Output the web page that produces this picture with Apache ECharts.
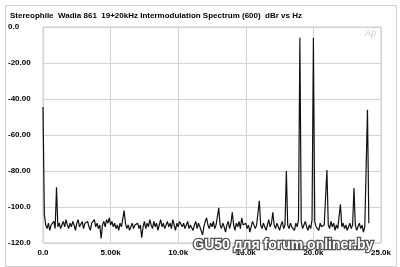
<!DOCTYPE html>
<html><head><meta charset="utf-8">
<script src="https://cdn.jsdelivr.net/npm/echarts@6/dist/echarts.min.js"></script>
<style>html,body{margin:0;padding:0;background:#fff}#c{width:400px;height:267px}</style>
</head><body><div id="c"></div>
<script>
const titleText = "Stereophile  Wadia 861  19+20kHz Intermodulation Spectrum (600)  dBr vs Hz";
const watermark = "GU50 для forum.onliner.by";
const xTicks = [0, 5000, 10000, 15000, 20000, 25000];
const xTickLabels = ["0.0", "5.00k", "10.0k", "15.0k", "20.0k", "25.0k"];
const yTicks = [0, -20, -40, -60, -80, -100, -120];
const yTickLabels = ["0.0", "-20.00", "-40.00", "-60.00", "-80.00", "-100.0", "-120.0"];
const binHz = 100; // spacing of the measured bins, 0 Hz upward
const levelsDb = [
  -44.5, -104, -110, -112, -109, -113, -110, -111, -108, -112,
  -89, -111, -109, -112, -110, -108, -111, -107, -110, -112,
  -109, -111, -108, -110, -113, -109, -107, -111, -110, -108,
  -112, -109, -110, -108, -111, -113, -109, -110, -107, -111,
  -109, -112, -110, -117.5, -110, -108, -111, -107, -109, -106,
  -110, -108, -111, -109, -112, -110, -113, -109, -111, -110,
  -102, -109, -112, -110, -113, -111, -109, -112, -110, -111,
  -109, -112, -110, -117, -111, -108, -112, -109, -111, -107,
  -110, -112, -108, -111, -109, -113, -110, -107, -111, -109,
  -112, -110, -108, -111, -109, -112, -107, -110, -113, -109,
  -111, -108, -107, -111, -109, -112, -110, -108, -112, -110,
  -109, -113, -110, -108, -112, -109, -111, -110, -115.5, -111,
  -108, -106, -110, -112, -109, -111, -108, -112, -110, -109,
  -100.5, -110, -112, -109, -111, -114, -110, -108, -112, -109,
  -103, -110, -113, -109, -111, -108, -112, -106, -110, -111,
  -109, -112, -110, -114, -111, -108, -109, -112, -110, -111,
  -96.5, -110, -112, -109, -111, -113, -110, -107, -111, -109,
  -103, -110, -112, -109, -111, -113, -110, -108, -112, -110,
  -80, -110, -112, -109, -111, -110, -113, -109, -111, -107,
  -6, -108, -112, -110, -108, -111, -113, -110, -112, -107,
  -6, -108, -111, -110, -113, -109, -111, -112, -110, -109,
  -79.5, -110, -112, -108, -111, -109, -113, -110, -112, -111,
  -98.5, -111, -109, -112, -110, -113, -111, -109, -112, -110,
  -89.5, -110, -113, -111, -109, -112, -110, -114, -111, -110,
  -46, -109
];

const seriesData = levelsDb.map((v, i) => [i * binHz, v]);
const xLabelMap = {}; xTicks.forEach((t, i) => xLabelMap[t] = xTickLabels[i]);
const yLabelMap = {}; yTicks.forEach((t, i) => yLabelMap[t] = yTickLabels[i]);

const chart = echarts.init(document.getElementById('c'), null, {renderer: 'canvas'});
const font = "'Liberation Sans', Arial, sans-serif";
chart.setOption({
  animation: false,
  backgroundColor: '#fff',
  grid: {left: 43, right: 19, top: 27, bottom: 24, show: true, borderColor: '#c8c8c8', borderWidth: 1},
  xAxis: {
    type: 'value', min: 0, max: 25000, interval: 5000,
    axisLine: {show: false}, axisTick: {show: false},
    splitLine: {show: true, lineStyle: {color: '#d4d4d4', width: 1}},
    axisLabel: {margin: 6, color: '#000', fontFamily: font, fontWeight: 'bold', fontSize: 8,
      formatter: v => xLabelMap[v] !== undefined ? xLabelMap[v] : ''}
  },
  yAxis: {
    type: 'value', min: -120, max: 0, interval: 20,
    axisLine: {show: false}, axisTick: {show: false},
    splitLine: {show: true, lineStyle: {color: '#d4d4d4', width: 1}},
    axisLabel: {margin: 35, align: 'left', color: '#000', fontFamily: font, fontWeight: 'bold', fontSize: 8,
      formatter: v => yLabelMap[v] !== undefined ? yLabelMap[v] : ''}
  },
  graphic: [
    {type: 'rect', left: 3, top: 3, shape: {width: 391, height: 261}, style: {fill: 'none', stroke: '#d0d0d0', lineWidth: 1}, z: -1},
    {type: 'text', left: 10, top: 12, style: {text: titleText, fill: '#000', font: "bold 8px 'Liberation Sans', Arial, sans-serif"}},
    {type: 'text', left: 365, top: 29, style: {text: 'Ap', fill: '#c8c8c8', font: "italic 9px 'Liberation Sans', Arial, sans-serif"}},
    {type: 'text', left: 192, top: 237, z: 100, style: {text: watermark, fill: '#ffffff', stroke: '#555', lineWidth: 2.5, font: "bold 14px 'Liberation Sans', Arial, sans-serif"}}
  ],
  series: [{
    type: 'line', data: seriesData, showSymbol: false, symbol: 'none',
    lineStyle: {color: '#111', width: 1.2}, clip: true
  }]
});
</script></body></html>
